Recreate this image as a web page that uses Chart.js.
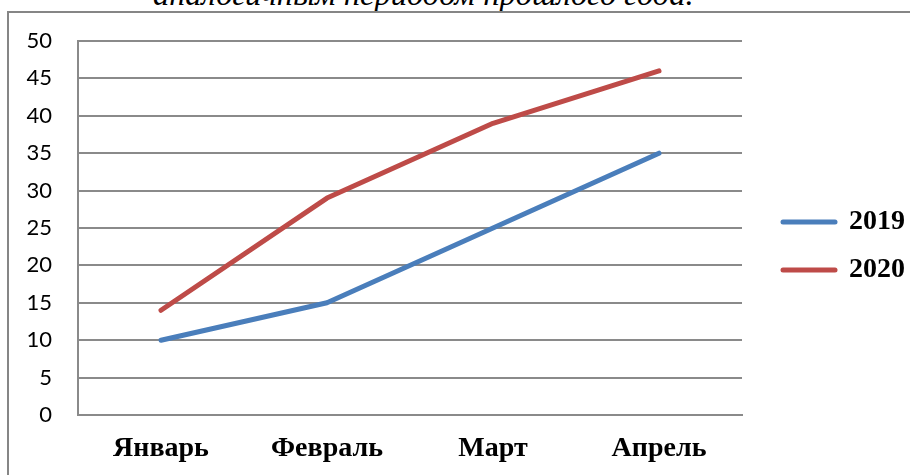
<!DOCTYPE html>
<html>
<head>
<meta charset="utf-8">
<script src="https://cdn.jsdelivr.net/npm/chart.js@4"></script>
<style>
  html,body{margin:0;padding:0;background:#fff;overflow:hidden;width:910px;height:475px;}
  .caption{position:absolute;left:153px;top:-20px;font:italic 32.5px/28px "Liberation Serif",serif;color:#000;white-space:nowrap;}
  .frame{position:absolute;left:7px;top:11px;width:940px;height:500px;border:2px solid #868686;}
  .wrap{position:absolute;left:0;top:0;width:915px;height:475px;}
</style>
</head>
<body>
<div class="caption">аналогичным периодом прошлого года.</div>
<div class="frame"></div>
<div class="wrap"><canvas id="chart"></canvas></div>
<script>
const months = ['Январь','Февраль','Март','Апрель'];
const seriesNames = ['2019','2020'];
const values2019 = [10, 15, 25, 35];
const values2020 = [14, 29, 39, 46];
const yTicks = [0,5,10,15,20,25,30,35,40,45,50];

const GRID = '#8a8a8a';
const serif = '"Liberation Serif", "Times New Roman", serif';

function line(label, data, color){
  return { label, data, borderColor:color, backgroundColor:color, pointBorderColor:color,
    borderWidth:5, borderCapStyle:'round', borderJoinStyle:'round', tension:0,
    pointRadius:0, pointHoverRadius:0, pointBorderWidth:5 };
}

new Chart(document.getElementById('chart'), {
  type:'line',
  data:{ labels:months, datasets:[ line(seriesNames[0], values2019, '#4a7ebb'), line(seriesNames[1], values2020, '#be4b48') ] },
  options:{
    responsive:true, maintainAspectRatio:false, animation:false,
    layout:{ padding:{ top:17, left:0, right:0, bottom:0 } },
    plugins:{
      tooltip:{enabled:false},
      title:{ display:true, text:' ', fullSize:false, position:'top', font:{size:10, lineHeight:1}, padding:{top:7,bottom:7} },
      legend:{
        position:'right', align:'center',
        labels:{
          usePointStyle:true, pointStyle:'line', pointStyleWidth:52, padding:20,
          color:'#000', font:{family:serif, size:28, weight:'bold'},
          generateLabels: ch => Chart.defaults.plugins.legend.labels.generateLabels(ch)
            .map(l => Object.assign(l, {lineWidth:5, lineCap:'round', pointStyle:'line'}))
        }
      }
    },
    scales:{
      x:{
        offset:true,
        grid:{ display:false, drawTicks:false },
        border:{ display:true, color:GRID, width:2 },
        ticks:{ color:'#000', padding:17, font:{family:serif, size:28, weight:'bold'} },
        afterFit: s => { s.height = 60; }
      },
      y:{
        min:0, max:50,
        afterBuildTicks: s => { s.ticks = yTicks.map(v => ({value:v})); },
        grid:{ color:GRID, lineWidth:2, drawTicks:false },
        border:{ display:true, color:GRID, width:2 },
        ticks:{ color:'#000', padding:26, font:{family:'Lato, sans-serif', size:22} },
        afterFit: s => { s.width = 78; }
      },
      gap:{
        type:'linear', position:'right', display:true,
        grid:{ display:false, drawTicks:false }, border:{ display:false }, ticks:{ display:false },
        afterFit: s => { s.width = 21; }
      }
    }
  }
});
</script>
</body>
</html>
